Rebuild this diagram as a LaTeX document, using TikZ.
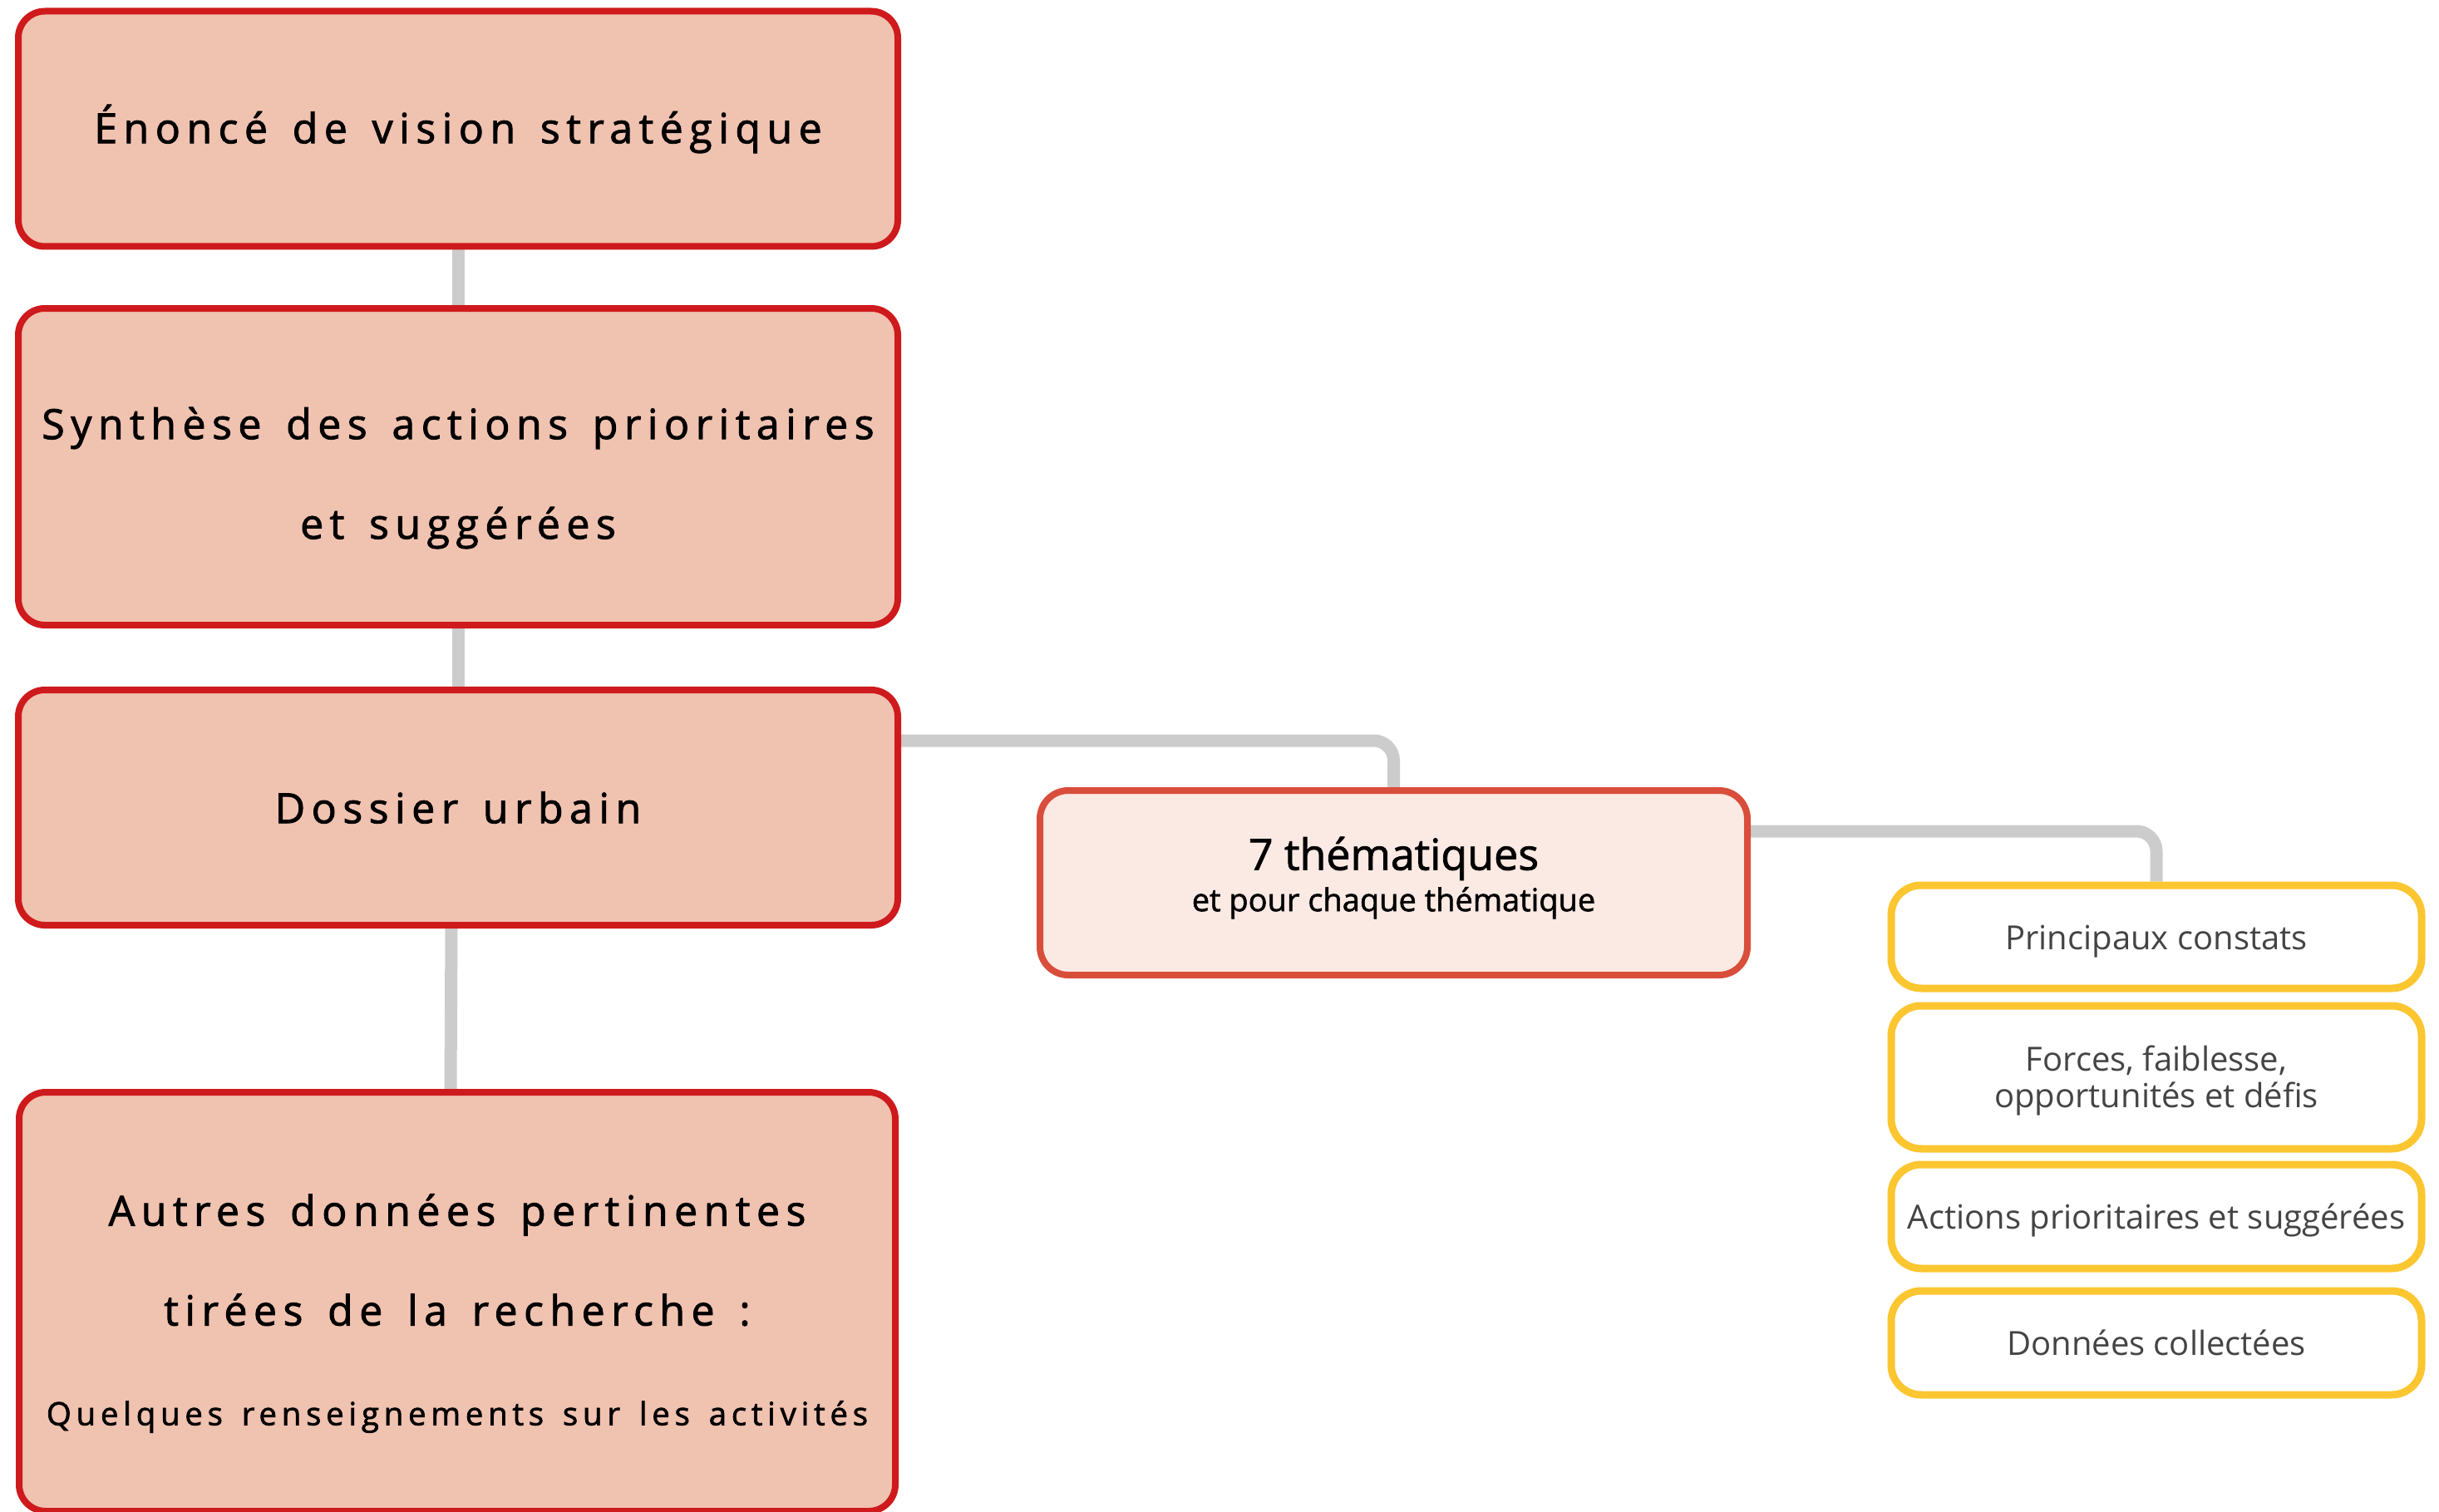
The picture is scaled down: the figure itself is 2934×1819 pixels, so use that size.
\documentclass[tikz,border=0pt]{standalone}
\usepackage{fontspec}
\setmainfont{Open Sans}
\newfontfamily\semi[FakeBold=1.5]{Open Sans}
\newfontfamily\spaced[LetterSpace=15,WordSpace=1.45,FakeBold=1.8]{Open Sans}
\usetikzlibrary{backgrounds}
\definecolor{redline}{HTML}{CE1A1C}
\definecolor{redfill}{HTML}{F0C2B0}
\definecolor{orline}{HTML}{D94E3B}
\definecolor{orfill}{HTML}{FBE9E3}
\definecolor{yel}{HTML}{FCC631}
\definecolor{conncol}{HTML}{CCCCCC}
\definecolor{gtext}{HTML}{444444}
\begin{document}
\begin{tikzpicture}[x=0.5pt,y=-0.5pt,
  mainbox/.style={draw=redline, fill=redfill, line width=4pt, rounded corners=16pt,
    minimum width=529pt, inner sep=0pt},
  redtext/.style={inner sep=0pt, align=center,
    font=\spaced\fontsize{25}{60}\selectfont},
  thembox/.style={draw=orline, fill=orfill, line width=4pt, rounded corners=17pt,
    minimum width=425.5pt, minimum height=111pt, inner sep=0pt},
  subbox/.style={draw=yel, fill=white, line width=4.5pt, rounded corners=18pt,
    minimum width=319pt, inner sep=0pt, align=center, text=gtext,
    font=\fontsize{20}{22}\selectfont},
  oneline/.style={text height=19pt, text depth=4pt},
  conn/.style={draw=conncol, line width=7.5pt}
]
\useasboundingbox (0,0) rectangle (2934,1819);

\node[mainbox, redtext, minimum height=141.5pt] (b1) at (551,155) {Énoncé de vision stratégique};
\node[mainbox, minimum height=190.5pt] (b2) at (551,561.5) {};
\node[redtext] (b2t) at (551,575) {Synthèse des actions prioritaires\\et suggérées};
\node[mainbox, redtext, minimum height=141.5pt] (b3) at (551,971.5) {Dossier urbain};
\node[mainbox, minimum width=527pt, minimum height=252pt] (b4) at (550,1566) {};
\node[redtext] (b4t) at (550,1580)
  {Autres données pertinentes\\tirées de la recherche :\\{\fontsize{19.2}{60}\selectfont Quelques renseignements sur les activités}};

\node[thembox] (t) at (1676.5,1062) {};
\node[inner sep=0pt, align=center] (tt) at (1676.5,1056)
  {{\semi\fontsize{26}{26}\selectfont 7 thématiques}\\[3pt]{\semi\fontsize{19}{22}\selectfont et pour chaque thématique}};

\node[subbox, oneline, minimum height=62pt] (y1) at (2594,1127) {Principaux constats};
\node[subbox, minimum height=86pt] (y2) at (2594,1296) {};
\node[inner sep=0pt, align=center, text=gtext, font=\fontsize{20}{22}\selectfont] (y2t) at (2594,1300) {Forces, faiblesse,\\opportunités et défis};
\node[subbox, oneline, minimum height=62.5pt] (y3) at (2594,1463.5) {Actions prioritaires et suggérées};
\node[subbox, oneline, minimum height=62.5pt] (y4) at (2594,1615.5) {Données collectées};

\coordinate (j1) at (1075,891);
\coordinate (j2) at (2100,1000);
\begin{scope}[on background layer]
  \draw[conn] (b1.south) -- (b2.north);
  \draw[conn] (b2.south) -- (b3.north);
  \draw[conn] ([xshift=-4pt]b3.south) -- ([xshift=-4pt]b4.north);
  \draw[conn, rounded corners=12pt] (j1) -| (t.north);
  \draw[conn, rounded corners=12pt] (j2) -| (y1.north);
\end{scope}
\end{tikzpicture}
\end{document}
